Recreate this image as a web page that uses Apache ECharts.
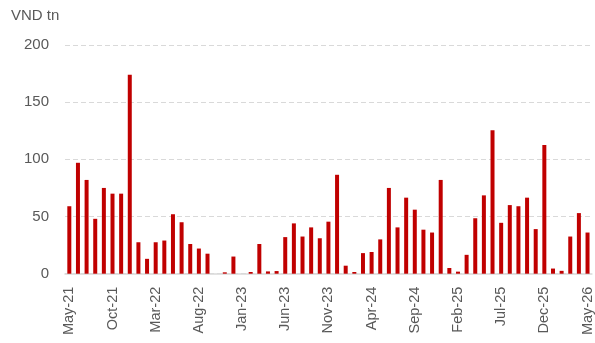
<!DOCTYPE html>
<html>
<head>
<meta charset="utf-8">
<style>
  html, body { margin: 0; padding: 0; background: #ffffff; }
  #chart { width: 595px; height: 343px; }
</style>
<script src="https://cdn.jsdelivr.net/npm/echarts@6/dist/echarts.min.js"></script>
</head>
<body>
<div id="chart"></div>
<script>
// Monthly issuance, VND trillion
const months = [
  'May-21','Jun-21','Jul-21','Aug-21','Sep-21','Oct-21','Nov-21','Dec-21',
  'Jan-22','Feb-22','Mar-22','Apr-22','May-22','Jun-22','Jul-22','Aug-22','Sep-22','Oct-22','Nov-22','Dec-22',
  'Jan-23','Feb-23','Mar-23','Apr-23','May-23','Jun-23','Jul-23','Aug-23','Sep-23','Oct-23','Nov-23','Dec-23',
  'Jan-24','Feb-24','Mar-24','Apr-24','May-24','Jun-24','Jul-24','Aug-24','Sep-24','Oct-24','Nov-24','Dec-24',
  'Jan-25','Feb-25','Mar-25','Apr-25','May-25','Jun-25','Jul-25','Aug-25','Sep-25','Oct-25','Nov-25','Dec-25',
  'Jan-26','Feb-26','Mar-26','Apr-26','May-26'
];

const values = [
  59, 97, 82, 48, 75, 70, 70, 174,
  27.5, 13, 27.5, 29, 52, 45, 26, 22, 17.5, 0, 1.2, 15,
  0, 1.5, 26, 2, 2.3, 32, 44, 32.5, 40.5, 31, 45.5, 86.5,
  7, 1.5, 18, 19, 30, 75, 40.5, 66.5, 56, 38.5, 36, 82,
  5, 1.8, 16.5, 48.5, 68.5, 125.5, 44.5, 60, 59, 66.5, 39, 112.5,
  4.5, 2.5, 32.5, 53, 36
];

const yTicks = { min: 0, max: 200, step: 50 };
const unitLabel = 'VND tn';

const chart = echarts.init(document.getElementById('chart'), null, { renderer: 'canvas' });

const textColor = '#595959';
const fontFamily = '"Liberation Sans", Arial, sans-serif';

chart.setOption({
  animation: false,
  backgroundColor: '#ffffff',
  textStyle: { fontFamily: fontFamily },
  graphic: [{
    type: 'text',
    left: 11,
    top: 8,
    style: { text: unitLabel, fill: textColor, font: '15px ' + fontFamily }
  }],
  grid: { left: 65, right: 0, top: 45, bottom: 69.3, containLabel: false },
  xAxis: {
    type: 'category',
    data: months,
    boundaryGap: true,
    axisLine: { show: true, lineStyle: { color: '#d9d9d9', width: 1.5 } },
    axisTick: { show: false },
    axisLabel: {
      interval: 4,
      rotate: 90,
      margin: 13,
      color: textColor,
      fontSize: 14.5,
      fontFamily: fontFamily
    }
  },
  yAxis: {
    type: 'value',
    min: yTicks.min,
    max: yTicks.max,
    interval: yTicks.step,
    axisLine: { show: false },
    axisTick: { show: false },
    axisLabel: { color: textColor, fontSize: 15, margin: 16, fontFamily: fontFamily },
    splitLine: { show: true, lineStyle: { color: '#d9d9d9', type: [5, 3], width: 1.2 } }
  },
  series: [{
    type: 'bar',
    data: values,
    barWidth: 4,
    itemStyle: { color: '#c00000' }
  }]
});
</script>
</body>
</html>
